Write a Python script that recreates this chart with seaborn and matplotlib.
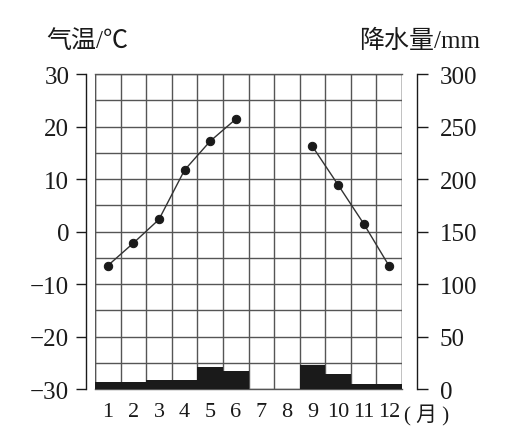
import numpy as np
import pandas as pd
import matplotlib
matplotlib.use('Agg')
import matplotlib.pyplot as plt
import seaborn as sns

sns.set_theme(style='white')
plt.rcParams['font.family'] = ['Liberation Serif', 'Noto Sans CJK SC', 'DejaVu Sans']

months = ['1', '2', '3', '4', '5', '6', '7', '8', '9', '10', '11', '12']
temp_c = [-6.5, -2.2, 2.3, 11.7, 17.2, 21.4, np.nan, np.nan, 16.2, 8.9, 1.5, -6.6]
precip_mm = [7, 7, 9, 9, 21, 17, 0, 0, 22.5, 14.5, 4.5, 4.5]
temp_ticks = [-30, -20, -10, 0, 10, 20, 30]
precip_ticks = [0, 50, 100, 150, 200, 250, 300]

df = pd.DataFrame({'month': months, 'pos': np.arange(12), 'temp': temp_c, 'precip': precip_mm})
# two separate runs of the temperature line (no data for Jul/Aug)
df['seg'] = np.where(df['pos'] < 6, 'a', 'b')
line_df = df.dropna(subset=['temp'])

fig = plt.figure(figsize=(5.18, 4.39), dpi=100)
ax = fig.add_axes([0.1834, 0.1116, 0.5927, 0.7175])
ax2 = ax.twinx()

grid_col = '#555555'
ink = '#1a1a1a'

# precipitation bars on the right scale
sns.barplot(data=df, x='month', y='precip', ax=ax2, width=1.0, color=ink,
            saturation=1, edgecolor=ink, linewidth=0)
ax2.set_ylim(0, 300)
ax2.set_yticks(precip_ticks)
ax2.set_ylabel('')
ax2.set_xlabel('')

# temperature line on the left scale
sns.lineplot(data=line_df, x='pos', y='temp', units='seg', estimator=None, ax=ax,
             color='#333333', linewidth=1.0, marker='o', markersize=6,
             markeredgecolor=ink, markerfacecolor=ink)
ax.set_xlim(-0.5, 11.5)
ax.set_ylim(-30, 30)
ax.set_yticks(temp_ticks)
ax.set_yticks(np.arange(-30, 31, 5), minor=True)
ax.set_xticks(np.arange(12))
ax.set_xticklabels(months)
ax.set_xticks(np.arange(-0.5, 12, 1), minor=True)
ax.set_xlabel('')
ax.set_ylabel('')

ax.grid(True, which='minor', color=grid_col, linewidth=1.0)
ax.grid(True, which='major', axis='y', color=grid_col, linewidth=1.0)
ax.grid(False, which='major', axis='x')
ax.set_axisbelow(True)
ax.axvline(-0.5, color=grid_col, lw=1.0)
ax.axvline(11.5, color=grid_col, lw=1.0)

for s in ['top', 'bottom']:
    ax.spines[s].set_visible(True)
    ax.spines[s].set_color(grid_col)
    ax.spines[s].set_linewidth(1.0)
ax.spines['right'].set_visible(False)
ax.spines['left'].set_position(('outward', 6.5))
ax.spines['left'].set_color(ink)
ax.spines['left'].set_linewidth(1.0)

for s in ['top', 'bottom', 'left']:
    ax2.spines[s].set_visible(False)
ax2.spines['right'].set_position(('outward', 11))
ax2.spines['right'].set_color(ink)
ax2.spines['right'].set_linewidth(1.0)

ax.tick_params(axis='y', which='major', left=True, length=7, width=1.0, color=ink,
               direction='out', pad=5, labelsize=18, labelcolor=ink)
ax.tick_params(axis='y', which='minor', left=False, length=0)
ax.tick_params(axis='x', which='both', bottom=False, length=0, pad=9,
               labelsize=16, labelcolor=ink)
ax2.tick_params(axis='y', right=True, length=8, width=1.0, color=ink,
                direction='out', pad=8, labelsize=18, labelcolor=ink)

ax.text(1.006, -0.082, '( 月 )', transform=ax.transAxes, ha='left', va='center',
        fontsize=15, color=ink)
fig.text(0.09, 0.906, '气温/℃', ha='left', va='center', fontsize=18, color=ink)
fig.text(0.927, 0.906, '降水量/mm', ha='right', va='center', fontsize=18, color=ink)

fig.savefig('out.png', dpi=100, facecolor='white')
